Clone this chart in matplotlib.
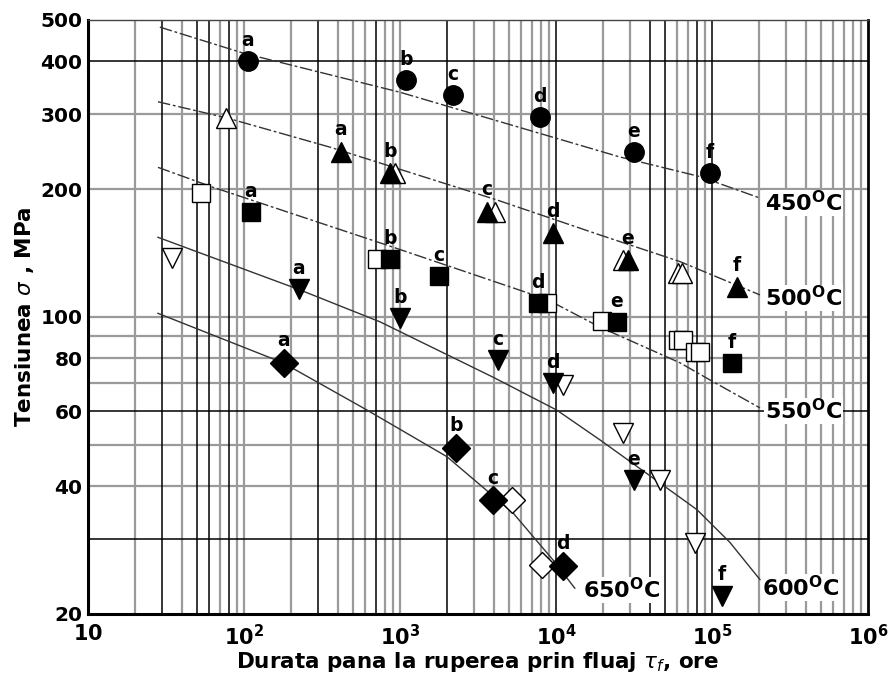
import matplotlib
matplotlib.use("Agg")
import matplotlib.pyplot as plt

plt.rcParams['font.family'] = ['DejaVu Sans']
plt.rcParams['mathtext.fontset'] = 'dejavusans'

# ---- data ----
letters = ['a', 'b', 'c', 'd', 'e', 'f']

c450_x = [106, 1090, 2190, 7890, 31600, 97000]
c450_y = [400, 361, 333, 296, 245, 218]

t500_x = [419, 863, 3614, 9550, 28900, 144000]
t500_y = [244.6, 218, 177, 157.6, 136, 117.6]
t500_open_x = [76.7, 929, 4060, 26900, 61000, 64000]
t500_open_y = [294, 218, 177, 136, 127, 127]

s550_x = [111, 863, 1780, 7670, 24600, 134000]
s550_y = [176.7, 137, 125, 107.8, 97.4, 78]
s550_open_x = [53, 713, 8750, 19700, 60500, 65200, 77900, 83700]
s550_open_y = [195.8, 137, 107.8, 98, 88.3, 88.3, 82.6, 82.6]

v600_x = [225, 1000, 4250, 9550, 31600, 116000]
v600_y = [116.5, 99.2, 79.2, 70, 41.3, 22.1]
v600_open_x = [34.5, 11100, 26900, 46500, 77800]
v600_open_y = [137.7, 69, 53.3, 41.3, 29.4]

d650_x = [180, 2290, 3950, 11100]
d650_y = [78, 49.2, 37, 26]
d650_open_x = [5220, 8130]
d650_open_y = [37, 26.1]

curve450_x = [28.9, 98.5, 1000, 25700, 83700, 203000]
curve450_y = [481, 418, 338, 238, 214, 190.5]
curve500_x = [28.1, 77.8, 356, 4190, 19100, 62400, 203000]
curve500_y = [321, 294, 251, 188.5, 156, 135, 112.7]
curve550_x = [28.1, 63.3, 902, 8750, 19100, 62400, 97000, 203000]
curve550_y = [225, 202, 146, 110, 94.7, 78, 71.1, 61.1]
curve600_x = [28.1, 228.5, 745, 4000, 10100, 19100, 40000, 80100, 130000, 203000]
curve600_y = [154, 115.8, 97.4, 72.0, 60.4, 51.4, 42.3, 35.2, 29.5, 24.1]
curve650_x = [28.1, 178, 614, 2000, 5300, 9570, 13200]
curve650_y = [102, 78, 60.4, 46.9, 34.6, 26.8, 23.0]

temp_labels = ['450', '500', '550', '600', '650']

x_ticks = [10, 1e2, 1e3, 1e4, 1e5, 1e6]
x_ticklabels = [r'$\mathbf{10}$', r'$\mathbf{10^{2}}$', r'$\mathbf{10^{3}}$', r'$\mathbf{10^{4}}$',
                r'$\mathbf{10^{5}}$', r'$\mathbf{10^{6}}$']
y_ticks = [20, 40, 60, 80, 100, 200, 300, 400, 500]
y_ticklabels = ['20', '40', '60', '80', '100', '200', '300', '400', '500']

x_grid_black = [30, 50, 60, 80, 300, 700, 2000, 10000, 40000, 50000, 80000, 100000]
x_grid_all = [m * 10 ** k for k in range(1, 6) for m in range(2, 10)] + [100, 1000, 10000, 100000]
y_grid_black = [400, 60, 30]
y_grid_gray = [300, 200, 100, 90, 80, 70, 50, 40]

# ---- figure ----
fig = plt.figure(figsize=(8.93, 6.80), dpi=100)
ax = fig.add_axes([0.0985, 0.0971, 0.8735, 0.8735])
ax.set_xscale('log')
ax.set_yscale('log')
ax.set_xlim(10, 1e6)
ax.set_ylim(20, 500)

for xv in x_grid_all:
    if xv in x_grid_black:
        ax.axvline(xv, color='black', lw=1.1, zorder=1)
    else:
        ax.axvline(xv, color='#9a9a9a', lw=1.6, zorder=0.9)
for yv in y_grid_gray:
    ax.axhline(yv, color='#9a9a9a', lw=1.6, zorder=0.9)
for yv in y_grid_black:
    ax.axhline(yv, color='black', lw=1.1, zorder=1)

# curves
dash = (0, (9, 2, 2, 2))
ax.plot(curve450_x, curve450_y, color='#333333', lw=1.0, ls=dash, zorder=2)
ax.plot(curve500_x, curve500_y, color='#333333', lw=1.0, ls=dash, zorder=2)
ax.plot(curve550_x, curve550_y, color='#333333', lw=1.0, ls=dash, zorder=2)
ax.plot(curve600_x, curve600_y, color='#333333', lw=1.0, zorder=2)
ax.plot(curve650_x, curve650_y, color='#333333', lw=1.0, zorder=2)

# open markers
okw = dict(ls='none', mfc='white', mec='black', mew=1.0, zorder=3)
ax.plot(t500_open_x, t500_open_y, marker='^', ms=15, **okw)
ax.plot(s550_open_x, s550_open_y, marker='s', ms=13, **okw)
ax.plot(v600_open_x, v600_open_y, marker='v', ms=15, **okw)
ax.plot(d650_open_x, d650_open_y, marker='D', ms=13, **okw)

# filled markers
fkw = dict(ls='none', color='black', zorder=4)
ax.plot(c450_x, c450_y, marker='o', ms=14, **fkw)
ax.plot(t500_x, t500_y, marker='^', ms=15, **fkw)
ax.plot(s550_x, s550_y, marker='s', ms=13, **fkw)
ax.plot(v600_x, v600_y, marker='v', ms=15, **fkw)
ax.plot(d650_x, d650_y, marker='D', ms=14, **fkw)

def letter_labels(xs, ys, off):
    for lab, xv, yv in zip(letters, xs, ys):
        ax.annotate(lab, (xv, yv), xytext=(0, off), textcoords='offset points',
                    ha='center', va='bottom', fontsize=13.5, fontweight='bold', zorder=5)

letter_labels(c450_x, c450_y, 8)
letter_labels(t500_x, t500_y, 9)
letter_labels(s550_x, s550_y, 8)
letter_labels(v600_x, v600_y, 8)
letter_labels(d650_x, d650_y, 9)

# temperature labels
tkw = dict(fontsize=16, va='center', ha='left', zorder=5,
           bbox=dict(facecolor='white', edgecolor='none', pad=0.5))
ax.text(219000, 185.6, r'$\mathbf{%s^{O}C}$' % temp_labels[0], **tkw)
ax.text(219000, 110.9, r'$\mathbf{%s^{O}C}$' % temp_labels[1], **tkw)
ax.text(219000, 60.1, r'$\mathbf{%s^{O}C}$' % temp_labels[2], **tkw)
ax.text(209000, 23.1, r'$\mathbf{%s^{O}C}$' % temp_labels[3], **tkw)
ax.text(14900, 22.8, r'$\mathbf{%s^{O}C}$' % temp_labels[4], **tkw)

# axes
ax.set_xticks(x_ticks)
ax.set_xticklabels(x_ticklabels, fontsize=15)
ax.set_yticks(y_ticks)
ax.set_yticklabels(y_ticklabels, fontsize=14.5, fontweight='bold')
ax.minorticks_off()
ax.tick_params(length=0, pad=4)
ax.tick_params(axis='x', pad=7)

for side in ['left', 'bottom']:
    ax.spines[side].set_linewidth(2.2)
ax.spines['right'].set_linewidth(2.0)
ax.spines['top'].set_linewidth(1.0)
ax.spines['top'].set_color('#444444')

ax.set_xlabel(r'Durata pana la ruperea prin fluaj $\boldsymbol{\tau_f}$, ore',
              fontsize=15.5, fontweight='bold', labelpad=1)
ax.set_ylabel(r'Tensiunea $\sigma$ , MPa', fontsize=15.5, fontweight='bold', labelpad=3)

fig.savefig('out.png', dpi=100)
